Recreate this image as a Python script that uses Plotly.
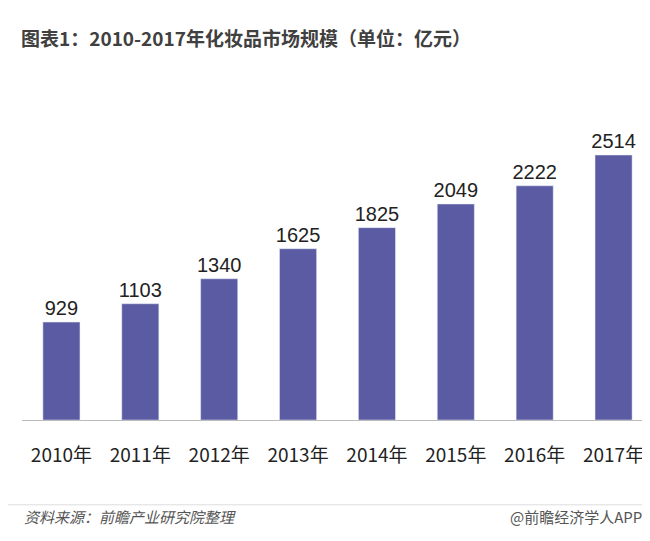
import plotly.graph_objects as go

years = ["2010年","2011年","2012年","2013年","2014年","2015年","2016年","2017年"]
values = [929,1103,1340,1625,1825,2049,2222,2514]

fig = go.Figure(go.Bar(x=years, y=values, marker_color="#5B5BA3", width=0.47,
                       text=[str(v) for v in values], textposition="outside",
                       constraintext="none",
                       textfont=dict(size=20, color="#222", family="Liberation Sans, Arial"),
                       cliponaxis=False))
fig.update_layout(
    width=650, height=541, plot_bgcolor="white", paper_bgcolor="white",
    margin=dict(l=14, r=5, t=92, b=129), showlegend=False,
    xaxis=dict(showline=True, linecolor="#bbb", linewidth=1, ticks="", ticklabelstandoff=18,
               tickfont=dict(size=19, color="#222", family="Noto Sans CJK SC")),
    yaxis=dict(visible=False, range=[0, 3036]),
    title=dict(text="<b>图表1：2010-2017年化妆品市场规模（单位：亿元）</b>", x=0.02, xanchor="left",
               y=0.955, font=dict(size=19, color="#404040", family="Noto Sans CJK SC")),
    annotations=[
        dict(text="<i>资料来源：前瞻产业研究院整理</i>", xref="paper", yref="paper", x=0, y=-0.34,
             xanchor="left", showarrow=False, font=dict(size=15, color="#555", family="Noto Sans CJK SC")),
        dict(text="@前瞻经济学人APP", xref="paper", yref="paper", x=0.985, y=-0.34,
             xanchor="right", showarrow=False, font=dict(size=15, color="#555", family="Noto Sans CJK SC")),
    ],
    shapes=[dict(type="line", xref="paper", yref="paper", x0=-0.03, x1=1.02, y0=-0.265, y1=-0.265,
                 line=dict(color="#ddd", width=1))],
)
fig.write_html("out.html")
